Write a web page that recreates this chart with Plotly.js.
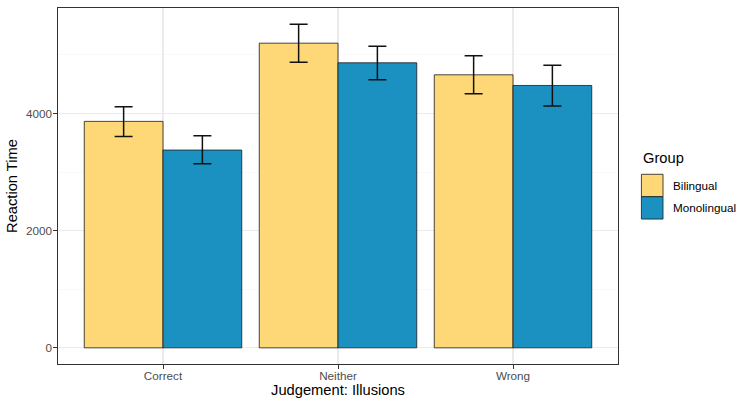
<!DOCTYPE html>
<html>
<head>
<meta charset="utf-8">
<script src="https://cdn.plot.ly/plotly-3.0.1.min.js"></script>
<style>
  html, body { margin: 0; padding: 0; background: #fff; }
  #chart { width: 750px; height: 407px; }
</style>
</head>
<body>
<div id="chart"></div>
<script>
// Reaction time by judgement, bilingual vs monolingual (mean with error bars)

const categories = ['Correct', 'Neither', 'Wrong'];

const bilingualMean = [3864, 5199, 4659];
const bilingualLower = [3608, 4875, 4335];
const bilingualUpper = [4113, 5523, 4983];

const monoMean = [3375, 4864, 4477];
const monoLower = [3142, 4574, 4125];
const monoUpper = [3619, 5148, 4824];

const groupNames = ['Bilingual', 'Monolingual'];
const groupColors = ['#FED876', '#1B91C1'];

const FONT = '"Liberation Sans", Arial, Helvetica, sans-serif';

// build one bar trace with asymmetric error bars
function barTrace(name, color, mean, lower, upper) {
    return {
        type: 'bar',
        name: name,
        x: categories,
        y: mean,
        marker: { color: color, line: { color: '#1a1a1a', width: 0.8 } },
        error_y: {
            type: 'data',
            symmetric: false,
            array: upper.map((u, i) => u - mean[i]),
            arrayminus: mean.map((m, i) => m - lower[i]),
            color: '#111111',
            thickness: 1.5,
            width: 9
        },
        showlegend: false,
        hoverinfo: 'x+y+name'
    };
}

const traces = [
    barTrace(groupNames[0], groupColors[0], bilingualMean, bilingualLower, bilingualUpper),
    barTrace(groupNames[1], groupColors[1], monoMean, monoLower, monoUpper)
];

// hand-drawn ggplot-style legend (keys are boxes, not data marks)
const keyX0 = 1.0418, keyX1 = 1.0804;
const keyYs = [0.5329, 0.4699, 0.4071];
const legendShapes = groupColors.map((c, i) => ({
    type: 'rect', xref: 'paper', yref: 'paper',
    x0: keyX0, x1: keyX1, y0: keyYs[i + 1], y1: keyYs[i],
    fillcolor: c, line: { color: '#1a1a1a', width: 0.8 }
}));

const legendAnnotations = [
    {
        text: 'Group', xref: 'paper', yref: 'paper', x: 1.0418, y: 0.579,
        xanchor: 'left', yanchor: 'middle', showarrow: false,
        font: { family: FONT, size: 14.7, color: '#000' }
    }
].concat(groupNames.map((n, i) => ({
    text: n, xref: 'paper', yref: 'paper', x: 1.0954,
    y: (keyYs[i] + keyYs[i + 1]) / 2,
    xanchor: 'left', yanchor: 'middle', showarrow: false,
    font: { family: FONT, size: 11.7, color: '#000' }
})));

const layout = {
    width: 750,
    height: 407,
    margin: { l: 58, r: 132, t: 8, b: 43 },
    paper_bgcolor: '#fff',
    plot_bgcolor: '#fff',
    font: { family: FONT, color: '#000' },
    barmode: 'group',
    bargap: 0.1,
    bargroupgap: 0,
    xaxis: {
        type: 'category',
        range: [-0.6, 2.6],
        showgrid: true,
        gridcolor: '#EBEBEB',
        gridwidth: 1.07,
        showline: true,
        mirror: true,
        linecolor: '#333333',
        linewidth: 1,
        ticks: 'outside',
        ticklen: 3.7,
        tickwidth: 1,
        tickcolor: '#333333',
        ticklabelstandoff: -3,
        tickfont: { family: FONT, size: 11.7, color: '#4D4D4D' },
        title: { text: 'Judgement: Illusions', standoff: 3, font: { family: FONT, size: 14.7, color: '#000' } },
        automargin: false,
        fixedrange: true
    },
    yaxis: {
        range: [-276, 5799],
        tickvals: [0, 2000, 4000],
        ticktext: ['0', '2000', '4000'],
        showgrid: true,
        gridcolor: '#EBEBEB',
        gridwidth: 1.07,
        zeroline: false,
        minor: { tickvals: [1000, 3000, 5000], showgrid: true, gridcolor: '#F4F4F4', gridwidth: 0.55, ticks: '' },
        showline: true,
        mirror: true,
        linecolor: '#333333',
        linewidth: 1,
        ticks: 'outside',
        ticklen: 3.7,
        tickwidth: 1,
        tickcolor: '#333333',
        ticklabelstandoff: -1,
        tickfont: { family: FONT, size: 11.7, color: '#4D4D4D' },
        title: { text: 'Reaction Time', standoff: 4, font: { family: FONT, size: 14.7, color: '#000' } },
        automargin: false,
        fixedrange: true
    },
    shapes: legendShapes,
    annotations: legendAnnotations
};

Plotly.newPlot('chart', traces, layout, { displayModeBar: false, staticPlot: true });
</script>
</body>
</html>
